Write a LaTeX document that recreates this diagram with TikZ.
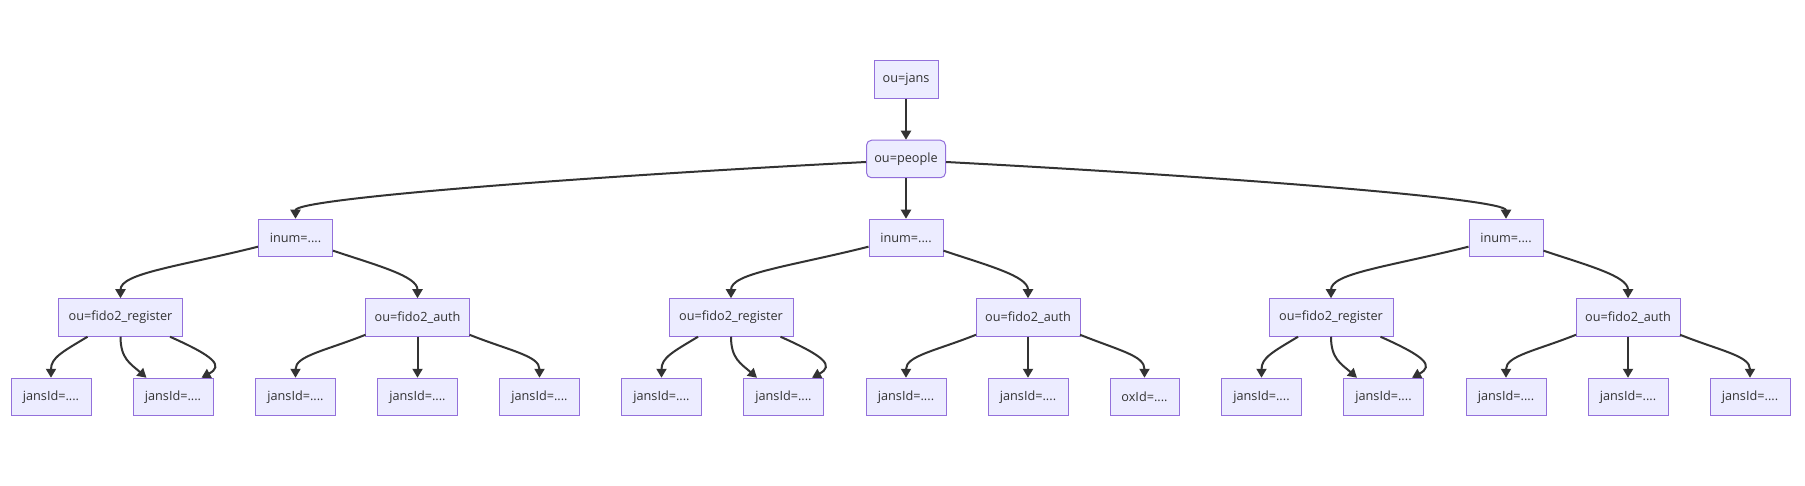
\documentclass[tikz,border=0pt]{standalone}
\usepackage{fontspec}
\setmainfont{Open Sans}
\usetikzlibrary{arrows.meta}
\definecolor{mmfill}{HTML}{ECECFF}
\definecolor{mmborder}{HTML}{9370DB}
\definecolor{mmedge}{HTML}{333333}
\tikzset{
  nbox/.style={draw=mmborder, fill=mmfill, line width=1pt, minimum height=37.5pt,
    inner sep=0pt, text=mmedge, font=\fontsize{12.7}{14}\selectfont},
  edge/.style={draw=mmedge, line width=2pt, -{Triangle[length=9pt,width=10pt]}},
}
\newcommand\grp[4]{%
  \node[nbox, minimum width=74pt] (#1i) at (#2,238) {inum=....};
  \node[nbox, minimum width=124pt] (#1r) at ({#2-175},317.5) {ou=fido2\_register};
  \node[nbox, minimum width=104pt] (#1a) at ({#2+122},317.5) {ou=fido2\_auth};
  \node[nbox, minimum width=80pt] (#1r1) at ({#2-244.5},397) {jansId=....};
  \node[nbox, minimum width=80pt] (#1r2) at ({#2-122.5},397) {jansId=....};
  \node[nbox, minimum width=80pt] (#1a1) at ({#2},397) {jansId=....};
  \node[nbox, minimum width=80pt] (#1a2) at ({#2+122},397) {jansId=....};
  \node[nbox, minimum width=#4pt] (#1a3) at ({#2+244-(80-#4)/2},397) {#3};
  \draw[edge] ([yshift=-8.7pt]#1i.west) .. controls +(-80,20) and +(0,-25) .. (#1r.north);
  \draw[edge] ([yshift=-12.7pt]#1i.east) .. controls +(45,15) and +(0,-22) .. (#1a.north);
  \draw[edge] ([xshift=-33pt]#1r.south) .. controls +(-25,15) and +(0,-20) .. (#1r1.north);
  \draw[edge] (#1r.south) .. controls +(0,22) and +(-16,-14) .. ([xshift=-26.5pt]#1r2.north);
  \draw[edge] ([xshift=49.5pt]#1r.south) .. controls +(45,20) and +(22,-12) .. ([xshift=28.5pt]#1r2.north);
  \draw[edge] ([xshift=-52pt,yshift=2pt]#1a.south) .. controls +(-40,16) and +(0,-22) .. (#1a1.north);
  \draw[edge] (#1a.south) -- (#1a2.north);
  \draw[edge] ([xshift=52pt,yshift=2pt]#1a.south) .. controls +(40,16) and +(0,-22) .. (#1a3.north);
}
\begin{document}
\begin{tikzpicture}[x=1pt,y=-1pt]
  \fill[white] (0,0) rectangle (1805,486);
  \useasboundingbox (0,0) rectangle (1805,486);
  \node[nbox, minimum width=64pt] (jans) at (906,79.5) {ou=jans};
  \node[nbox, minimum width=79pt, rounded corners=5pt] (people) at (906,159) {ou=people};
  \draw[edge] (jans) -- (people);
  \grp{L}{295.5}{jansId=....}{80}
  \grp{M}{906}{oxId=....}{69}
  \grp{R}{1506}{jansId=....}{80}
  \draw[edge] ([yshift=-3pt]people.west) .. controls +(-290,15) and +(0,-20) .. (Li.north);
  \draw[edge] (people) -- (Mi);
  \draw[edge] ([yshift=-3pt]people.east) .. controls +(285,15) and +(0,-20) .. (Ri.north);
\end{tikzpicture}
\end{document}
